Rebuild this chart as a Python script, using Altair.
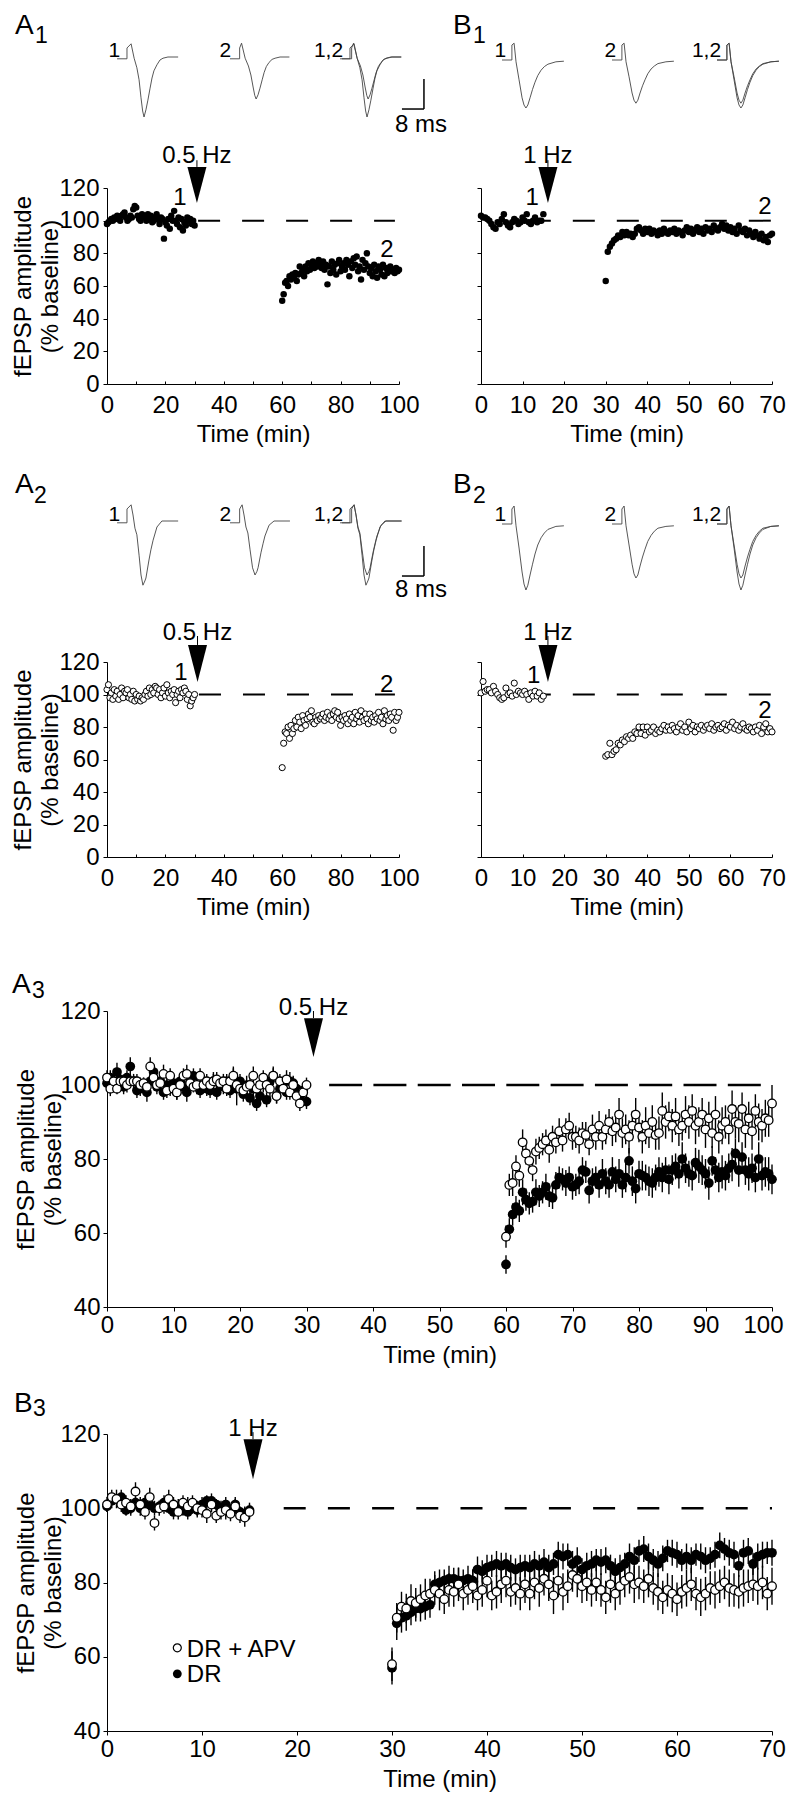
import altair as alt
import pandas as pd

# ---------------------------------------------------------------- data
# fEPSP amplitude (% of baseline), one value every 0.5 min
A1_PRE = [98, 99, 100, 101, 100, 102, 101, 103, 102, 100,
          103, 104, 105, 102, 100, 101, 103, 102, 107, 109,
          108, 103, 101, 100, 104, 103, 102, 100, 104, 101,
          103, 99, 100, 102, 104, 101, 98, 102, 101, 89,
          99, 97, 101, 95, 103, 100, 106, 100, 98, 102,
          96, 101, 94, 99, 97, 102, 100, 101, 98, 100,
          97]
A1_POST = [51, 55, 62, 63, 60, 66, 64, 67, 65, 68,
           63, 67, 72, 68, 70, 66, 72, 69, 74, 70,
           73, 75, 71, 74, 72, 76, 73, 71, 75, 70,
           73, 61, 72, 68, 75, 70, 73, 67, 74, 76,
           69, 72, 74, 70, 76, 73, 66, 75, 71, 77,
           73, 78, 69, 72, 64, 76, 70, 74, 80, 72,
           68, 71, 66, 73, 69, 65, 72, 70, 67, 73,
           66, 71, 68, 70, 72, 69, 70, 68, 71, 69,
           70]
B1_PRE = [103, 102, 102, 101, 100, 98, 96, 95, 99, 98,
          101, 104, 99, 97, 96, 99, 101, 100, 98, 99,
          102, 100, 104, 99, 98, 100, 102, 99, 100, 100,
          104]
B1_POST = [63, 81, 84, 86, 88, 89, 91, 90, 93, 91,
           93, 91, 92, 90, 92, 95, 96, 94, 92, 95,
           93, 95, 92, 94, 93, 91, 94, 92, 95, 93,
           92, 94, 93, 95, 92, 94, 93, 91, 94, 96,
           93, 95, 92, 94, 96, 93, 95, 92, 96, 94,
           95, 93, 97, 95, 94, 96, 98, 95, 97, 94,
           96, 93, 95, 92, 97, 94, 93, 95, 91, 94,
           92, 90, 93, 91, 89, 92, 88, 90, 87, 91,
           92]
A2_PRE = [103, 106, 98, 101, 97, 103, 99, 102, 97, 100,
          104, 98, 102, 101, 103, 98, 100, 97, 102, 96,
          100, 97, 99, 96, 98, 97, 100, 102, 99, 104,
          100, 103, 101, 105, 104, 100, 103, 98, 101, 104,
          99, 106, 101, 98, 102, 100, 103, 95, 100, 102,
          98, 103, 101, 104, 102, 97, 100, 93, 96, 98,
          100]
A2_POST = [55, 70, 77, 76, 80, 73, 81, 76, 79, 84,
           80, 86, 83, 79, 87, 84, 81, 85, 88, 86,
           90, 83, 82, 86, 84, 87, 85, 86, 88, 84,
           86, 89, 85, 87, 84, 88, 90, 86, 89, 85,
           81, 86, 84, 87, 85, 82, 88, 84, 86, 82,
           89, 85, 87, 83, 90, 86, 84, 88, 85, 82,
           88, 84, 86, 83, 87, 85, 89, 84, 86, 82,
           90, 85, 87, 84, 88, 86, 78, 89, 84, 86,
           89]
B2_PRE = [101, 108, 102, 103, 103, 101, 105, 102, 100, 98,
          97, 98, 104, 100, 101, 99, 107, 100, 102, 101,
          100, 102, 100, 97, 101, 99, 102, 99, 101, 97,
          99]
B2_POST = [62, 63, 70, 63, 65, 66, 70, 69, 72, 71,
           74, 73, 75, 73, 77, 76, 80, 76, 80, 75,
           80, 77, 78, 80, 76, 78, 77, 79, 81, 78,
           80, 78, 81, 79, 77, 80, 82, 78, 80, 77,
           83, 79, 81, 77, 80, 79, 81, 78, 80, 81,
           79, 82, 78, 80, 81, 79, 80, 82, 78, 81,
           80, 83, 79, 81, 78, 80, 82, 79, 78, 80,
           79, 77, 80, 78, 81, 76, 80, 82, 77, 79,
           77]

# group means +/- SEM
A3_APV_PRE = [102, 99, 101, 99, 101, 101, 100, 101, 101, 101,
              100, 100.5, 99.5, 105, 102, 100, 100.5, 103, 98.5, 102.5,
              99, 98, 100, 102.5, 103, 100.5, 99.5, 100, 102.5, 100,
              101, 100, 101, 101.5, 100.5, 101, 99, 101, 102.5, 100,
              99, 98.5, 99.5, 100, 102.5, 99, 100, 102, 100, 99,
              102.5, 97, 101, 99, 101.5, 98, 100, 97, 95, 98,
              100]
A3_APV_POST = [59, 73, 73.5, 78, 75.5, 84.5, 81.5, 79.5, 77, 82,
               83, 84, 85, 82.5, 86, 84.5, 87.5, 85, 88, 89,
               86, 86, 85, 87, 86.5, 84, 88, 86, 89, 86,
               88, 90, 87.5, 88.5, 92, 87, 88, 86, 89, 92,
               88.5, 86, 89, 87, 90, 86.5, 87, 93, 90, 91.5,
               89, 91.5, 88, 89, 92, 90, 93, 89, 90, 92,
               88, 91, 87, 92, 86, 89, 90, 88, 93.5, 90,
               89.5, 93.5, 88, 91, 87.5, 93, 90, 89, 91, 90.5,
               95]
A3_APV_PRE_SEM = [2, 2, 2, 1.5, 2, 1.5, 2, 1.5, 1.5, 2,
                  2, 1.5, 2, 2.5, 2, 1.5, 2, 2.5, 2, 2,
                  2, 2, 1.5, 2, 2.5, 2, 1.5, 2, 2, 1.5,
                  2, 1.5, 2, 2, 1.5, 2, 2, 1.5, 2.5, 2,
                  2, 2, 1.5, 2, 2.5, 2, 1.5, 2, 2, 2.5,
                  2, 2, 2, 1.5, 2.5, 2, 2, 2.5, 2, 2,
                  2]
A3_APV_POST_SEM = [3, 3, 3.5, 3, 3, 3.5, 3, 3, 3, 3.5,
                   3, 3, 3, 3.5, 3, 3, 3.5, 3, 3, 3.5,
                   3.5, 3, 3.5, 3, 3.5, 3, 4, 3.5, 4, 3.5,
                   4, 3.5, 4, 4, 4.5, 4, 4, 4.5, 4, 4.5,
                   4, 4.5, 5, 4, 4.5, 4, 4.5, 5, 4.5, 4,
                   4.5, 5, 4.5, 4, 5, 4.5, 4.5, 5, 4, 4.5,
                   5, 4.5, 4, 5, 4.5, 5, 4.5, 4, 5, 4.5,
                   5, 4.5, 5, 4.5, 5, 4.5, 5, 4.5, 5, 4.5,
                   5]
A3_DR_PRE = [100.5, 102, 100, 103.5, 101.5, 99.5, 102, 105, 101, 98.5,
             99, 100, 98, 101, 103.5, 99.5, 101, 98, 100, 99,
             100.5, 98, 101, 99.5, 98, 101, 102.5, 99.5, 98.5, 100,
             99, 98.5, 101, 98, 100, 99.5, 101, 98.5, 102, 99,
             101, 97.5, 100, 96.5, 99, 95, 97, 100.5, 96, 101,
             102.5, 97, 99, 100.5, 98, 101, 100.5, 99, 97, 98.5,
             95.5]
A3_DR_POST = [51.5, 61, 65, 67, 66, 71, 69, 68, 68.5, 71,
              70, 71, 72.5, 70, 69.5, 73, 75, 74.5, 73.5, 75,
              72.5, 73, 74, 77, 76.5, 71.5, 74, 75, 73, 76,
              74, 73, 76.5, 74.5, 76, 73, 75, 79.5, 74, 72,
              76, 75.5, 75, 74, 73.5, 75, 76.5, 75, 77, 74.5,
              77, 78, 76, 80, 77.5, 76, 75.5, 79, 78, 77,
              76, 73.5, 79.5, 77, 75, 76.5, 75.5, 77.5, 78.5, 81.5,
              77, 80.5, 77, 76, 77.5, 75, 80, 75.5, 76.5, 76,
              74.5]
A3_DR_PRE_SEM = [2, 2, 2, 2.5, 2, 2, 2, 2.5, 2, 2,
                 2, 2, 2.5, 2, 2, 2, 2, 2, 2.5, 2,
                 2, 2, 2, 2, 2.5, 2, 2, 2, 2, 2,
                 2, 2, 2.5, 2, 2, 2, 2, 2, 2.5, 4.5,
                 2, 2, 2.5, 2, 2, 2, 2, 2.5, 2, 2,
                 2.5, 2, 2, 2, 2, 2.5, 2, 2, 2.5, 2,
                 2]
A3_DR_POST_SEM = [2.5, 3, 3, 3, 3, 3.5, 3, 3, 3, 3.5,
                  3, 3, 3.5, 3, 3, 3.5, 3, 3, 3.5, 3,
                  3.5, 3, 3.5, 3.5, 3, 3.5, 3.5, 3, 3.5, 4,
                  3.5, 3.5, 4, 3.5, 4, 3.5, 4, 3.5, 4, 4,
                  3.5, 4, 3.5, 4, 4, 3.5, 4, 4, 3.5, 4,
                  4, 3.5, 4, 4.5, 4, 3.5, 4, 4, 4.5, 4,
                  4, 4.5, 4, 3.5, 4, 4.5, 4, 4, 4.5, 4,
                  4.5, 4, 4, 4.5, 4, 4, 4.5, 4, 4, 4.5,
                  4]
B3_APV_PRE = [101, 103, 102.5, 101, 101.5, 100.5, 104.5, 101, 99, 103,
              96, 100, 100.5, 102.5, 101, 99, 101.5, 100.5, 101.5, 100,
              99.5, 98.5, 101, 98, 99, 99.5, 98.5, 100.5, 98, 97.5,
              99]
B3_APV_POST = [58, 70.5, 73.5, 73, 75, 74.5, 75.5, 76.5, 77, 78,
               77, 75.5, 78, 77.5, 79.5, 77, 78, 79, 76.5, 78,
               80.5, 76.5, 77.5, 79.5, 80.5, 77.5, 78.5, 77, 79.5, 77,
               80, 78.5, 81, 79.5, 76.5, 80.5, 77.5, 79, 82, 81,
               79, 80, 78, 80, 78, 76, 79.5, 77, 79, 80.5,
               81.5, 79.5, 80, 79, 81, 78.5, 77.5, 76, 78, 77,
               75.5, 77.5, 78.5, 79.5, 77, 76, 77, 78.5, 78, 79,
               80, 78.5, 78, 77.5, 78.5, 79, 79.5, 79, 80, 77,
               79]
B3_APV_PRE_SEM = [2, 2, 2.5, 2, 2, 2, 2.5, 2, 2, 2.5,
                  2, 2, 2, 2.5, 2, 2, 2, 2.5, 2, 2,
                  2, 2.5, 2, 2, 2, 2.5, 2, 2, 2, 2.5,
                  2]
B3_APV_POST_SEM = [4.5, 4, 4, 4, 4.5, 4, 4, 4.5, 4, 4,
                   4.5, 4, 4.5, 4, 4.5, 4.5, 4, 4.5, 4, 4.5,
                   4.5, 4, 4.5, 5, 4.5, 4, 4.5, 4.5, 5, 4.5,
                   4.5, 5, 4.5, 4.5, 5, 4.5, 5, 4.5, 4.5, 5,
                   4.5, 5, 4.5, 5, 4.5, 4.5, 5, 4.5, 5, 4.5,
                   4.5, 5, 4.5, 4.5, 5, 4.5, 5, 4.5, 4.5, 5,
                   4.5, 4.5, 5, 4.5, 4.5, 5, 4.5, 4.5, 5, 4.5,
                   4.5, 5, 4.5, 4.5, 5, 4.5, 4.5, 5, 4.5, 4.5,
                   5]
B3_DR_PRE = [100.5, 102, 102.5, 103, 99.5, 100, 101.5, 100, 101.5, 101,
             100, 100.5, 101.5, 100, 99, 100.5, 99.5, 99, 100, 99.5,
             101, 102, 102, 101, 100, 101, 99.5, 101, 99, 98.5,
             99.5]
B3_DR_POST = [57, 69, 70.5, 71, 72, 73, 73, 73.5, 74, 79.5,
              80, 80.5, 81, 81, 80.5, 80.5, 81, 80.5, 83.5, 83,
              84, 84.5, 85, 84.5, 85, 84, 83.5, 84, 84.5, 84,
              85, 84.5, 85.5, 84, 85, 87.5, 87, 87.5, 85, 86,
              83.5, 84.5, 85, 86, 85.5, 86, 84.5, 83, 84, 85,
              87, 86, 88.5, 89, 87, 86, 85, 86.5, 88.5, 88,
              87.5, 86, 87, 86, 87.5, 87, 86, 86.5, 87.5, 90,
              89, 88, 87.5, 84.5, 88, 88.5, 85, 87, 87.5, 88,
              88]
B3_DR_PRE_SEM = [1.5, 2, 1.5, 2, 1.5, 2, 1.5, 2, 2, 1.5,
                 2, 1.5, 2, 1.5, 2, 2, 1.5, 2, 1.5, 2,
                 2, 1.5, 2, 1.5, 2, 2, 1.5, 2, 1.5, 2,
                 2]
B3_DR_POST_SEM = [4.5, 4.5, 4, 4, 3.5, 3.5, 3.5, 3.5, 3.5, 3.5,
                  3.5, 3, 3.5, 3, 3.5, 3, 3.5, 3, 3.5, 3,
                  3.5, 3, 3.5, 3.5, 3, 3.5, 3, 3.5, 3, 3.5,
                  3.5, 3, 3.5, 3.5, 3, 3.5, 3.5, 3, 3.5, 3.5,
                  3, 3.5, 3.5, 3, 3.5, 3.5, 3, 3.5, 3.5, 3,
                  3.5, 3.5, 3, 3.5, 3.5, 3, 3.5, 3.5, 3, 3.5,
                  3.5, 3, 3.5, 3.5, 3, 3.5, 3.5, 3, 3.5, 3.5,
                  3, 3.5, 3.5, 3, 3.5, 3.5, 3, 3.5, 3.5, 3,
                  3.5]

SAMPLE_STEP = 0.5       # min between plotted responses
PRE_START = 0.0
A_POST_START = 60.0
B_POST_START = 30.0

# example fEPSP traces (time in ms from stimulus, voltage in mV)
TR_A1_1_T = [-4.7, -1.1, -1.1, 0.4, 1.5, 2.5, 3.3, 4.0, 4.6, 5.1, 5.8, 6.5, 7.3, 8.0, 8.7, 9.8, 10.9, 12.0, 13.8, 17.5]
TR_A1_1_V = [-0.03, -0.03, 0.15, 0.22, -0.02, -0.18, -0.38, -0.68, -0.9, -1.0, -0.88, -0.72, -0.52, -0.35, -0.23, -0.13, -0.05, -0.02, 0.0, 0.0]
TR_A1_2_T = [-4.0, -0.5, -0.5, 0.2, 1.5, 2.7, 3.6, 4.4, 5.0, 5.5, 6.2, 6.9, 7.7, 8.4, 9.2, 10.2, 11.3, 12.4, 14.2, 17.6]
TR_A1_2_V = [-0.03, -0.03, 0.15, 0.23, -0.02, -0.15, -0.3, -0.5, -0.64, -0.7, -0.63, -0.52, -0.38, -0.26, -0.16, -0.09, -0.04, -0.02, 0.0, 0.0]
TR_B1_T = [-4.0, -0.4, -0.4, 0.4, 1.1, 2.2, 3.3, 4.0, 4.7, 5.4, 6.2, 7.1, 8.0, 9.0, 10.2, 11.4, 12.7, 15.6, 18.5]
TR_B1_1_V = [-0.05, -0.05, 0.2, 0.23, -0.08, -0.38, -0.68, -0.8, -0.85, -0.8, -0.68, -0.54, -0.42, -0.31, -0.22, -0.16, -0.12, -0.08, -0.07]
TR_B1_2_V = [-0.05, -0.05, 0.2, 0.23, -0.08, -0.33, -0.6, -0.72, -0.77, -0.72, -0.6, -0.48, -0.38, -0.28, -0.2, -0.15, -0.11, -0.08, -0.07]
TR_A2_1_T = [-4.7, -1.1, -1.1, 0.4, 1.1, 1.8, 2.5, 3.3, 4.0, 4.7, 5.4, 5.8, 6.9, 7.6, 8.4, 9.8, 11.6, 17.5]
TR_A2_1_V = [-0.03, -0.03, 0.2, 0.27, 0.1, -0.12, -0.23, -0.57, -0.9, -1.07, -1.0, -0.95, -0.65, -0.48, -0.32, -0.1, 0.0, 0.0]
TR_A2_2_T = [-4.0, -0.5, -0.5, 0.4, 1.1, 1.8, 2.5, 3.3, 4.2, 5.1, 5.8, 6.2, 7.3, 8.0, 8.7, 10.2, 12.0, 17.8]
TR_A2_2_V = [-0.03, -0.03, 0.2, 0.27, 0.1, -0.1, -0.2, -0.48, -0.78, -0.9, -0.84, -0.78, -0.52, -0.38, -0.25, -0.07, 0.0, 0.0]
TR_B2_T = [-4.0, -0.4, -0.4, 0.4, 1.1, 2.2, 3.3, 4.0, 4.7, 5.4, 6.2, 7.1, 8.0, 9.0, 10.2, 11.4, 12.7, 15.6, 18.5]
TR_B2_1_V = [-0.05, -0.05, 0.2, 0.25, -0.08, -0.45, -0.85, -1.05, -1.15, -1.07, -0.9, -0.72, -0.55, -0.4, -0.28, -0.2, -0.14, -0.09, -0.08]
TR_B2_2_V = [-0.05, -0.05, 0.2, 0.25, -0.08, -0.4, -0.72, -0.88, -0.95, -0.9, -0.75, -0.6, -0.47, -0.34, -0.24, -0.17, -0.12, -0.09, -0.08]

SCALEBAR_MS = 8
SCALEBAR_MV = 0.5

# ---------------------------------------------------------------- layout
W, H = 778, 1784
FONT = "Liberation Sans"
FS = 24
FS_TR = 21

BOX = {
    "A1": {"xd": [0, 100], "xr": [99, 391], "yd": [0, 120], "yr": [376, 180]},
    "B1": {"xd": [0, 70], "xr": [473, 764], "yd": [0, 120], "yr": [376, 180]},
    "A2": {"xd": [0, 100], "xr": [99, 391], "yd": [0, 120], "yr": [849, 654]},
    "B2": {"xd": [0, 70], "xr": [473, 764], "yd": [0, 120], "yr": [849, 654]},
    "A3": {"xd": [0, 100], "xr": [99, 764], "yd": [40, 120], "yr": [1299, 1003]},
    "B3": {"xd": [0, 70], "xr": [99, 764], "yd": [40, 120], "yr": [1723, 1426]},
}
XLAB = {"A1": list(range(0, 101, 20)), "A2": list(range(0, 101, 20)),
        "B1": list(range(0, 71, 10)), "B2": list(range(0, 71, 10)),
        "A3": list(range(0, 101, 10)), "B3": list(range(0, 71, 10))}
XTICK = {"A1": list(range(0, 101, 10)), "A2": list(range(0, 101, 10)),
         "B1": list(range(0, 71, 10)), "B2": list(range(0, 71, 10))}
YVAL = {"A1": list(range(0, 121, 20)), "A2": list(range(0, 121, 20)),
        "B1": list(range(0, 121, 20)), "B2": list(range(0, 121, 20)),
        "A3": list(range(40, 121, 20)), "B3": list(range(40, 121, 20))}
YTITLE_X = {"A1": -72, "A2": -72, "A3": -69, "B3": -69}

ARROWS = {
    "A1": {"t": 30.8, "vc": 121.8, "half": 1.9, "s": [137.0, 132.9], "text": "0.5 Hz", "tv": 135.3},
    "B1": {"t": 16.1, "vc": 121.8, "half": 1.9, "s": [137.0, 132.9], "text": "1 Hz", "tv": 135.5},
    "A2": {"t": 31.0, "vc": 119.1, "half": 1.95, "s": [136.0, 130.5], "text": "0.5 Hz", "tv": 133.5},
    "B2": {"t": 16.1, "vc": 119.1, "half": 1.95, "s": [136.0, 130.5], "text": "1 Hz", "tv": 133.5},
    "A3": {"t": 31.05, "vc": 112.8, "half": 2.05, "s": [120.0, 118.1], "text": "0.5 Hz", "tv": 118.9},
    "B3": {"t": 15.37, "vc": 113.2, "half": 2.1, "s": [120.5, 118.6], "text": "1 Hz", "tv": 119.5},
}
DASHES = {
    "A1": {"t1": 31.2, "t2": 98.6, "dash": [22, 22], "w": 2},
    "B1": {"t1": 11.5, "t2": 70, "dash": [22, 22], "w": 2},
    "A2": {"t1": 31.5, "t2": 98.6, "dash": [22, 22], "w": 2},
    "B2": {"t1": 11.5, "t2": 70, "dash": [22, 22], "w": 2},
    "A3": {"t1": 33.4, "t2": 100, "dash": [33, 11.3], "w": 2.5},
    "B3": {"t1": 18.6, "t2": 70, "dash": [22, 22.2], "w": 2.5},
}
NUMLABELS = {
    "A1": [("1", 25.0, 109.6), ("2", 95.9, 77.8)],
    "B1": [("1", 12.3, 109.6), ("2", 68.3, 104.0)],
    "A2": [("1", 25.3, 108.9), ("2", 95.8, 101.5)],
    "B2": [("1", 12.7, 107.1), ("2", 68.3, 85.5)],
}
# letter, subscript, letter x/baseline, subscript x/baseline (pixels)
PANEL_TAGS = [("A", "1", 7, 26, 27, 35), ("B", "1", 445, 26, 465, 35),
              ("A", "2", 7, 485, 26, 495), ("B", "2", 445, 485, 465, 495),
              ("A", "3", 4, 985, 24, 990), ("B", "3", 6, 1404, 25, 1408)]

PX_MS, PX_MV = 2.75, 60.0
TRACES = {
    "A1_1": {"x0": 122, "z": 49, "lab": "1", "lx": -3.6, "tr": [("1", TR_A1_1_T, TR_A1_1_V)]},
    "A1_2": {"x0": 233, "z": 49, "lab": "2", "lx": -3.6, "tr": [("2", TR_A1_2_T, TR_A1_2_V)]},
    "A1_3": {"x0": 345, "z": 49, "lab": "1,2", "lx": -3.6,
             "tr": [("1", TR_A1_1_T, TR_A1_1_V), ("2", TR_A1_2_T, TR_A1_2_V)],
             "bar": (25.8, -0.867, 24.7, -1.25)},
    "B1_1": {"x0": 505, "z": 49, "lab": "1", "lx": -2.5, "tr": [("1", TR_B1_T, TR_B1_1_V)]},
    "B1_2": {"x0": 615, "z": 49, "lab": "2", "lx": -2.5, "tr": [("2", TR_B1_T, TR_B1_2_V)]},
    "B1_3": {"x0": 720, "z": 49, "lab": "1,2", "lx": -2.5,
             "tr": [("1", TR_B1_T, TR_B1_1_V), ("2", TR_B1_T, TR_B1_2_V)]},
    "A2_1": {"x0": 122, "z": 513, "lab": "1", "lx": -3.6, "tr": [("1", TR_A2_1_T, TR_A2_1_V)]},
    "A2_2": {"x0": 233, "z": 513, "lab": "2", "lx": -3.6, "tr": [("2", TR_A2_2_T, TR_A2_2_V)]},
    "A2_3": {"x0": 345, "z": 513, "lab": "1,2", "lx": -3.6,
             "tr": [("1", TR_A2_1_T, TR_A2_1_V), ("2", TR_A2_2_T, TR_A2_2_V)],
             "bar": (25.8, -0.917, 24.7, -1.27)},
    "B2_1": {"x0": 505, "z": 513, "lab": "1", "lx": -2.5, "tr": [("1", TR_B2_T, TR_B2_1_V)]},
    "B2_2": {"x0": 615, "z": 513, "lab": "2", "lx": -2.5, "tr": [("2", TR_B2_T, TR_B2_2_V)]},
    "B2_3": {"x0": 720, "z": 513, "lab": "1,2", "lx": -2.5,
             "tr": [("1", TR_B2_T, TR_B2_1_V), ("2", TR_B2_T, TR_B2_2_V)]},
}
LEGEND = [("DR + APV", "white", 62.4, 61.9), ("DR", "black", 55.4, 55.0)]
LEGEND_T = (7.4, 8.4)


def series_frame(pre, post, post_start, pre_sem=None, post_sem=None):
    rows = []
    for i, v in enumerate(pre):
        rows.append({"t": PRE_START + SAMPLE_STEP * i, "v": v,
                     "sem": pre_sem[i] if pre_sem else 0})
    for i, v in enumerate(post):
        rows.append({"t": post_start + SAMPLE_STEP * i, "v": v,
                     "sem": post_sem[i] if post_sem else 0})
    df = pd.DataFrame(rows)
    df["lo"] = df["v"] - df["sem"]
    df["hi"] = df["v"] + df["sem"]
    return df


def xsc(p):
    b = BOX[p]
    return alt.Scale(domain=b["xd"], range=b["xr"], nice=False, zero=False)


def ysc(p):
    b = BOX[p]
    return alt.Scale(domain=b["yd"], range=b["yr"], nice=False, zero=False)


def X(p, f="t", axis=None):
    return alt.X(f"{f}:Q", scale=xsc(p), axis=axis)


def Y(p, f="v", axis=None):
    return alt.Y(f"{f}:Q", scale=ysc(p), axis=axis)


def x_axis(p):
    b = BOX[p]
    small = p in ("A1", "B1", "A2", "B2")
    kw = dict(orient="bottom", offset=b["yr"][0] - H, values=XLAB[p], grid=False,
              domain=True, domainColor="black", domainWidth=1,
              labelFont=FONT, labelFontSize=FS, labelColor="black",
              labelFlush=False, labelOverlap=False,
              title="Time (min)", titleFont=FONT, titleFontSize=FS,
              titleFontWeight="normal", titleColor="black")
    if small:
        kw.update(ticks=False, labelPadding=9, titlePadding=5)
    else:
        kw.update(ticks=True, tickSize=4, tickColor="black", tickWidth=1,
                  labelPadding=2, titlePadding=6)
    if p == "A3":
        # keep the last label inside the page edge
        kw.update(labelOffset={"condition": {"test": "datum.value >= 100", "value": -9},
                               "value": 0})
    return alt.Axis(**kw)


def x_tick_axis(p):
    b = BOX[p]
    return alt.Axis(orient="bottom", offset=b["yr"][0] - H - 3, values=XTICK[p],
                    labels=False, domain=False, ticks=True, tickSize=3,
                    tickColor="black", tickWidth=1, grid=False, title=None)


def y_axis(p):
    b = BOX[p]
    kw = dict(orient="left", offset=-b["xr"][0], values=YVAL[p], grid=False,
              domain=True, domainColor="black", domainWidth=1,
              ticks=True, tickSize=4, tickColor="black", tickWidth=1)
    if p in ("B1", "B2"):
        kw.update(labels=False, title=None)
    else:
        kw.update(labels=True, labelFont=FONT, labelFontSize=FS, labelColor="black",
                  labelPadding=4 if p in ("A1", "A2") else 3,
                  labelFlush=False, labelOverlap=False,
                  title=["fEPSP amplitude", "(% baseline)"], titleFont=FONT,
                  titleFontSize=FS, titleFontWeight="normal", titleColor="black",
                  titleAngle=270, titleAlign="center", titleBaseline="bottom",
                  titleLineHeight=27, titleX=YTITLE_X[p])
    return alt.Axis(**kw)


layers = []

# ---- dashed baselines, arrows and stimulus labels
for p in BOX:
    d = DASHES[p]
    xenc = X(p, "t1", x_tick_axis(p)) if p in XTICK else X(p, "t1")
    layers.append(
        alt.Chart(pd.DataFrame([{"t1": d["t1"], "t2": d["t2"], "v": 100}]))
        .mark_rule(color="black", strokeWidth=d["w"], strokeDash=d["dash"])
        .encode(x=xenc, x2=alt.X2("t2"), y=Y(p)))
    a = ARROWS[p]
    layers.append(
        alt.Chart(pd.DataFrame([{"t": a["t"], "v": a["s"][0], "v2": a["s"][1]}]))
        .mark_rule(color="black", strokeWidth=1)
        .encode(x=X(p), y=Y(p), y2=alt.Y2("v2")))
    h = a["half"]
    layers.append(
        alt.Chart(pd.DataFrame([{"t": a["t"], "v": a["vc"]}]))
        .mark_point(shape=f"M-1,-{h}L1,-{h}L0,{h}Z", size=361, filled=True,
                    color="black", opacity=1, strokeWidth=0)
        .encode(x=X(p), y=Y(p)))
    layers.append(
        alt.Chart(pd.DataFrame([{"t": a["t"], "v": a["tv"]}]))
        .mark_text(text=a["text"], font=FONT, fontSize=FS, color="black",
                   align="center", baseline="alphabetic")
        .encode(x=X(p), y=Y(p)))

# ---- single-slice panels
SINGLE = {
    "A1": (A1_PRE, A1_POST, A_POST_START, True),
    "B1": (B1_PRE, B1_POST, B_POST_START, True),
    "A2": (A2_PRE, A2_POST, A_POST_START, False),
    "B2": (B2_PRE, B2_POST, B_POST_START, False),
}
for p, (pre, post, ps, filled) in SINGLE.items():
    df = series_frame(pre, post, ps)
    if filled:
        mk = alt.Chart(df).mark_circle(size=42, color="black", opacity=1)
    else:
        mk = alt.Chart(df).mark_circle(size=38, fill="white", stroke="black",
                                       strokeWidth=1, opacity=1)
    layers.append(mk.encode(x=X(p, axis=x_axis(p)), y=Y(p, axis=y_axis(p))))
    for txt, t, v in NUMLABELS[p]:
        layers.append(
            alt.Chart(pd.DataFrame([{"t": t, "v": v}]))
            .mark_text(text=txt, font=FONT, fontSize=FS, color="black",
                       align="center", baseline="alphabetic")
            .encode(x=X(p), y=Y(p)))

# ---- group panels (mean +/- SEM)
GROUP = {
    "A3": [(A3_DR_PRE, A3_DR_POST, A3_DR_PRE_SEM, A3_DR_POST_SEM, "black", A_POST_START),
           (A3_APV_PRE, A3_APV_POST, A3_APV_PRE_SEM, A3_APV_POST_SEM, "white", A_POST_START)],
    "B3": [(B3_DR_PRE, B3_DR_POST, B3_DR_PRE_SEM, B3_DR_POST_SEM, "black", B_POST_START),
           (B3_APV_PRE, B3_APV_POST, B3_APV_PRE_SEM, B3_APV_POST_SEM, "white", B_POST_START)],
}
for p, groups in GROUP.items():
    for k, (pre, post, pre_s, post_s, fill, ps) in enumerate(groups):
        df = series_frame(pre, post, ps, pre_s, post_s)
        layers.append(
            alt.Chart(df).mark_rule(color="black", strokeWidth=1.4)
            .encode(x=X(p), y=Y(p, "lo"), y2=alt.Y2("hi")))
        if fill == "black":
            mk = alt.Chart(df).mark_circle(size=95, color="black", opacity=1)
        else:
            mk = alt.Chart(df).mark_circle(size=74, fill="white", stroke="black",
                                           strokeWidth=1.3, opacity=1)
        if k == 0:
            layers.append(mk.encode(x=X(p, axis=x_axis(p)), y=Y(p, axis=y_axis(p))))
        else:
            layers.append(mk.encode(x=X(p), y=Y(p)))

# ---- legend in B3
for name, fill, vm, vt in LEGEND:
    if fill == "black":
        mk = alt.Chart(pd.DataFrame([{"t": LEGEND_T[0], "v": vm}])).mark_circle(
            size=78, color="black", opacity=1)
    else:
        mk = alt.Chart(pd.DataFrame([{"t": LEGEND_T[0], "v": vm}])).mark_circle(
            size=64, fill="white", stroke="black", strokeWidth=1.2, opacity=1)
    layers.append(mk.encode(x=X("B3"), y=Y("B3")))
    layers.append(
        alt.Chart(pd.DataFrame([{"t": LEGEND_T[1], "v": vt}]))
        .mark_text(text=name, font=FONT, fontSize=FS, color="black",
                   align="left", baseline="middle")
        .encode(x=X("B3"), y=Y("B3")))

# ---- example traces
for key, tp in TRACES.items():
    txs = alt.Scale(domain=[0, 10], range=[tp["x0"], tp["x0"] + 10 * PX_MS], nice=False, zero=False)
    tys = alt.Scale(domain=[-1, 0], range=[tp["z"] + PX_MV, tp["z"]], nice=False, zero=False)
    rows = []
    for name, T, V in tp["tr"]:
        for i, (t, v) in enumerate(zip(T, V)):
            rows.append({"tr": name, "i": i, "t": t, "v": v})
    layers.append(
        alt.Chart(pd.DataFrame(rows)).mark_line(color="#444444", strokeWidth=0.9)
        .encode(x=alt.X("t:Q", scale=txs, axis=None), y=alt.Y("v:Q", scale=tys, axis=None),
                detail="tr:N", order="i:Q"))
    layers.append(
        alt.Chart(pd.DataFrame([{"t": tp["lx"], "v": 0.0}]))
        .mark_text(text=tp["lab"], font=FONT, fontSize=FS_TR, color="black",
                   align="right", baseline="alphabetic")
        .encode(x=alt.X("t:Q", scale=txs, axis=None), y=alt.Y("v:Q", scale=tys, axis=None)))
    if "bar" in tp:
        te, vb, tx, ty = tp["bar"]
        bars = pd.DataFrame([
            {"t": te - SCALEBAR_MS, "t2": te, "v": vb, "v2": vb},
            {"t": te, "t2": te, "v": vb, "v2": vb + SCALEBAR_MV},
        ])
        layers.append(
            alt.Chart(bars).mark_rule(color="black", strokeWidth=1.5)
            .encode(x=alt.X("t:Q", scale=txs, axis=None), x2=alt.X2("t2"),
                    y=alt.Y("v:Q", scale=tys, axis=None), y2=alt.Y2("v2")))
        layers.append(
            alt.Chart(pd.DataFrame([{"t": tx, "v": ty}]))
            .mark_text(text=f"{SCALEBAR_MS} ms", font=FONT, fontSize=FS, color="black",
                       align="center", baseline="alphabetic")
            .encode(x=alt.X("t:Q", scale=txs, axis=None), y=alt.Y("v:Q", scale=tys, axis=None)))

# ---- panel tags (letter + subscript)
for letter, sub, lx, ly, sx, sy in PANEL_TAGS:
    one = pd.DataFrame([{"k": 0}])
    layers.append(alt.Chart(one).mark_text(text=letter, font=FONT, fontSize=28, color="black",
                                           align="left", baseline="alphabetic")
                  .encode(x=alt.value(lx), y=alt.value(ly)))
    layers.append(alt.Chart(one).mark_text(text=sub, font=FONT, fontSize=23, color="black",
                                           align="left", baseline="alphabetic")
                  .encode(x=alt.value(sx), y=alt.value(sy)))

chart = (
    alt.layer(*layers)
    .resolve_scale(x="independent", y="independent")
    .properties(width=W, height=H, autosize=alt.AutoSizeParams(type="none"),
                padding={"left": 0, "right": 0, "top": 0, "bottom": 0},
                background="white")
    .configure_view(stroke=None)
)

chart.save("out.html", embed_options={"renderer": "svg", "actions": False})
